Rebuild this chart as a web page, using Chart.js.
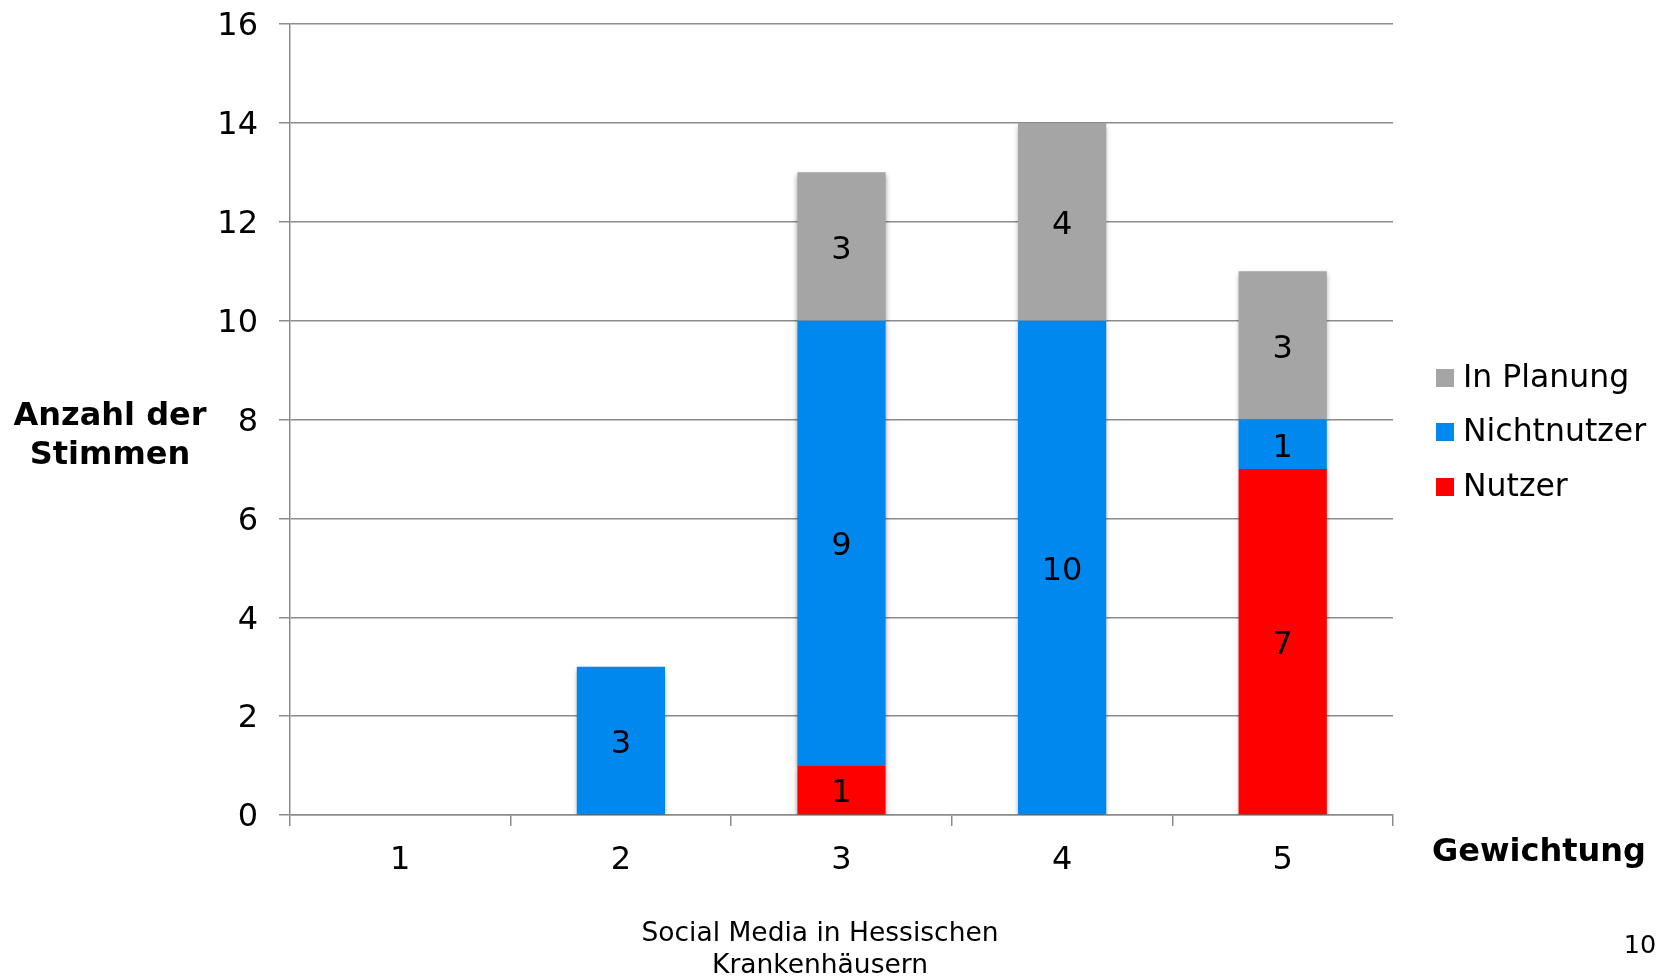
<!DOCTYPE html>
<html>
<head>
<meta charset="utf-8">
<style>
  html, body { margin: 0; padding: 0; background: #ffffff; }
  #wrap { width: 1659px; height: 978px; position: relative; }
</style>
<script src="https://cdn.jsdelivr.net/npm/chart.js@4/dist/chart.umd.min.js"></script>
</head>
<body>
<div id="wrap"><canvas id="chart" width="1659" height="978"></canvas></div>
<script>
// Gewichtung categories and vote counts per group
const categories = ['1', '2', '3', '4', '5'];
const nutzer      = [0, 0, 1, 0, 7];
const nichtnutzer = [0, 3, 9, 10, 1];
const inPlanung   = [0, 0, 3, 4, 3];
const seriesNames = ['Nutzer', 'Nichtnutzer', 'In Planung'];
const seriesColors = ['#FF0000', '#0088EE', '#A5A5A5'];
const yTitleLines = ['Anzahl der', 'Stimmen'];
const xTitle = 'Gewichtung';
const footerLines = ['Social Media in Hessischen', 'Krankenhäusern'];
const pageNumber = '10';

const FONT = '"DejaVu Sans", Verdana, sans-serif';
const GRID = '#8c8c8c';

// soft drop shadow under the bars
const barShadow = {
  id: 'barShadow',
  beforeDatasetsDraw(chart) {
    const ctx = chart.ctx;
    ctx.save();
    ctx.shadowColor = 'rgba(0,0,0,0.38)';
    ctx.shadowBlur = 5;
    ctx.shadowOffsetX = 0;
    ctx.shadowOffsetY = 3;
  },
  afterDatasetsDraw(chart) {
    chart.ctx.restore();
  }
};

// value labels centred in each segment
const segmentLabels = {
  id: 'segmentLabels',
  afterDatasetsDraw(chart) {
    const ctx = chart.ctx;
    ctx.save();
    ctx.font = '32px ' + FONT;
    ctx.fillStyle = '#000';
    ctx.textAlign = 'center';
    ctx.textBaseline = 'middle';
    chart.data.datasets.forEach((ds, i) => {
      const meta = chart.getDatasetMeta(i);
      meta.data.forEach((bar, j) => {
        const v = ds.data[j];
        if (!v) return;
        ctx.fillText(String(v), bar.x, (bar.y + bar.base) / 2 + 4);
      });
    });
    ctx.restore();
  }
};

// legend, axis titles and page footer
const annotations = {
  id: 'annotations',
  afterDraw(chart) {
    const ctx = chart.ctx;
    ctx.save();
    ctx.fillStyle = '#000';
    ctx.textBaseline = 'middle';

    // legend (reverse series order)
    const ds = chart.data.datasets;
    const rowY = [378, 432, 487];
    ctx.font = '31.5px ' + FONT;
    ctx.textAlign = 'left';
    for (let k = 0; k < ds.length; k++) {
      const d = ds[ds.length - 1 - k];
      ctx.fillStyle = d.backgroundColor;
      ctx.fillRect(1436, rowY[k] - 9, 18, 18);
      ctx.fillStyle = '#000';
      ctx.fillText(d.label, 1463, rowY[k] + 1);
    }

    // axis titles
    ctx.font = 'bold 32px ' + FONT;
    ctx.textAlign = 'center';
    ctx.fillText(yTitleLines[0], 110, 417);
    ctx.fillText(yTitleLines[1], 110, 456);
    ctx.fillText(xTitle, 1539, 853);

    // footer
    ctx.font = '26.5px ' + FONT;
    ctx.fillText(footerLines[0], 820, 934);
    ctx.fillText(footerLines[1], 820, 966);
    ctx.font = '25.5px ' + FONT;
    ctx.fillText(pageNumber, 1640, 946);
    ctx.restore();
  }
};

const values = [nutzer, nichtnutzer, inPlanung];

new Chart(document.getElementById('chart'), {
  type: 'bar',
  data: {
    labels: categories,
    datasets: seriesNames.map((name, i) => ({
      label: name,
      data: values[i],
      backgroundColor: seriesColors[i],
      borderWidth: 0,
      barPercentage: 0.4,
      categoryPercentage: 1.0
    }))
  },
  options: {
    responsive: false,
    animation: false,
    devicePixelRatio: 1,
    layout: { padding: { left: 0, right: 266, top: 24, bottom: 0 } },
    plugins: {
      legend: { display: false },
      tooltip: { enabled: false }
    },
    scales: {
      x: {
        stacked: true,
        afterFit(scale) { scale.height = 163; },
        grid: {
          display: true,
          drawOnChartArea: false,
          offset: true,
          color: GRID,
          lineWidth: 1.5,
          tickLength: 11
        },
        border: { color: GRID, width: 1.5 },
        ticks: {
          color: '#000',
          font: { family: FONT, size: 32 },
          padding: 15
        }
      },
      y: {
        stacked: true,
        min: 0,
        max: 16,
        afterFit(scale) {
          scale.width = 290;
          scale.paddingTop = 0;
          scale.paddingBottom = 0;
        },
        grid: {
          color: GRID,
          lineWidth: 1.5,
          tickLength: 11
        },
        border: { color: GRID, width: 1.5 },
        ticks: {
          stepSize: 2,
          color: '#000',
          font: { family: FONT, size: 32 },
          padding: 21,
          labelOffset: 3
        }
      }
    }
  },
  plugins: [barShadow, segmentLabels, annotations]
});
</script>
</body>
</html>
